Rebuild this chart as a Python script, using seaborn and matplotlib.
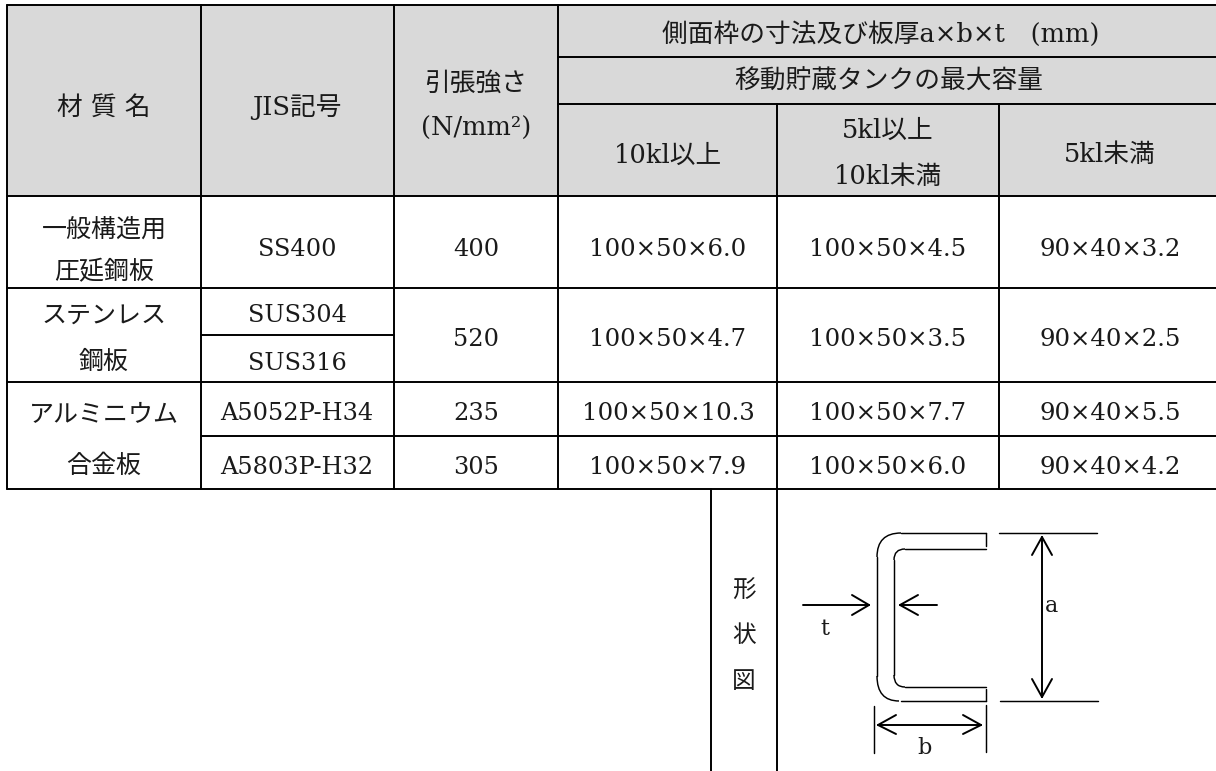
import matplotlib
matplotlib.use("Agg", force = True)

import numpy as np
import pandas as pd
import seaborn as sns
import matplotlib.pyplot as plt
from matplotlib.path import Path
from matplotlib.patches import PathPatch

W, H = 1216, 771

sns.set_theme(style = "white")
plt.rcParams['font.family'] = ['DejaVu Serif', 'Noto Sans CJK JP']

# table text
materials = [("一般構造用", 230), ("圧延鋼板", 272), ("ステンレス", 316), ("鋼板", 362), ("アルミニウム", 415), ("合金板", 466)]
jis_codes = [("SS400", 250), ("SUS304", 316), ("SUS316", 363), ("A5052P-H34", 414), ("A5803P-H32", 468)]
strengths = [("400", 250), ("520", 340), ("235", 414), ("305", 468)]
sizes_10kl = ["100×50×6.0", "100×50×4.7", "100×50×10.3", "100×50×7.9"]
sizes_5kl = ["100×50×4.5", "100×50×3.5", "100×50×7.7", "100×50×6.0"]
sizes_small = ["90×40×3.2", "90×40×2.5", "90×40×5.5", "90×40×4.2"]
size_rows = [250, 340, 414, 468]
headers = [
    ("材 質 名", 104, 107), ("JIS記号", 297, 107), ("引張強さ", 476, 83), ("(N/mm²)", 476, 128),
    ("側面枠の寸法及び板厚a×b×t\u3000(mm)", 881, 34), ("移動貯蔵タンクの最大容量", 889, 81),
    ("10kl以上", 668, 155), ("5kl以上", 888, 130), ("10kl未満", 888, 177), ("5kl未満", 1110, 155),
]
shape_text = [("形", 744, 591), ("状", 744, 636), ("図", 744, 681)]
dim_text = [("t", 825, 629), ("a", 1051, 606), ("b", 925, 748)]

# grid lines: (x0, y0, x1, y1)
table_rules = [
    (7, 5, W, 5), (558, 57, W, 57), (558, 104, W, 104), (7, 196, W, 196), (7, 288, W, 288),
    (201, 335, 394, 335), (7, 382, W, 382), (201, 436, W, 436), (7, 489, W, 489),
    (7, 5, 7, 489), (201, 5, 201, 489), (394, 5, 394, 489), (558, 5, 558, 489),
    (777, 104, 777, H), (999, 104, 999, 489), (711, 489, 711, H),
]
# outline of the channel and its dimension lines
shape_lines = [
    (901, 533, 986, 533), (905, 549, 986, 549), (905, 687, 986, 687), (901, 701, 986, 701),
    (986, 533, 986, 546), (986, 689, 986, 701),
    (877, 557, 877, 676), (894, 560, 894, 675),
    (999, 533, 1097, 533), (1000, 701, 1098, 701), (874, 706, 874, 753), (986, 705, 986, 752),
]
arrows = [
    (803, 605, 869, 605), (852, 595, 869, 605), (852, 615, 869, 605),
    (937, 605, 900, 605), (918, 595, 900, 605), (918, 615, 900, 605),
    (1042, 537, 1042, 697), (1032, 555, 1042, 537), (1052, 555, 1042, 537),
    (1032, 679, 1042, 697), (1052, 679, 1042, 697),
    (878, 725, 981, 725), (896, 715, 878, 725), (896, 734, 878, 725),
    (963, 715, 981, 725), (963, 734, 981, 725),
]
# rounded corners: start, control, end
corners = [
    ((901, 533), (877, 533), (877, 557)), ((877, 676), (877, 701), (899, 701)),
    ((905, 549), (894, 549), (894, 560)), ((894, 675), (894, 687), (905, 687)),
]


def draw_segments(ax, segments, lw):
    rows = []
    for i, (x0, y0, x1, y1) in enumerate(segments):
        rows.append({"seg": i, "order": 0, "x": x0, "y": y0})
        rows.append({"seg": i, "order": 1, "x": x1, "y": y1})
    df = pd.DataFrame(rows)
    sns.lineplot(data = df, x = "x", y = "y", units = "seg", estimator = None, sort = False,
                 color = "black", linewidth = lw, legend = False, ax = ax)


fig = plt.figure(figsize = (W / 100, H / 100), dpi = 100, facecolor = "white")

# header shade
shade_ax = fig.add_axes([7 / W, 1 - 196 / H, (W - 7) / W, (196 - 5) / H])
sns.heatmap(np.array([[1]]), cmap = ["#d9d9d9"], cbar = False, xticklabels = False, yticklabels = False, ax = shade_ax)

ax = fig.add_axes([0, 0, 1, 1])
ax.patch.set_visible(False)
draw_segments(ax, table_rules, 1.4)
draw_segments(ax, shape_lines, 1.05)
draw_segments(ax, arrows, 1.4)
for p0, c, p1 in corners:
    ax.add_patch(PathPatch(Path([p0, c, p1], [Path.MOVETO, Path.CURVE3, Path.CURVE3]), fill = False, lw = 1.05, ec = "black"))
ax.set_xlim(0, W)
ax.set_ylim(H, 0)
ax.axis("off")


def put(s, x, y, size = 18):
    ax.text(x, y, s, ha = "center", va = "center", fontsize = size, color = "#1a1a1a")


for s, x, y in headers:
    put(s, x, y, 18.5)
for s, y in materials:
    put(s, 104, y)
for s, y in jis_codes:
    put(s, 297, y, 17.3)
for s, y in strengths:
    put(s, 476, y, 17.3)
for col, x in ((sizes_10kl, 668), (sizes_5kl, 888), (sizes_small, 1110)):
    for s, y in zip(col, size_rows):
        put(s, x, y, 17.6)
for s, x, y in shape_text:
    put(s, x, y, 17)
for s, x, y in dim_text:
    put(s, x, y, 16)

fig.savefig("out.png", dpi = 100)
plt.close()
